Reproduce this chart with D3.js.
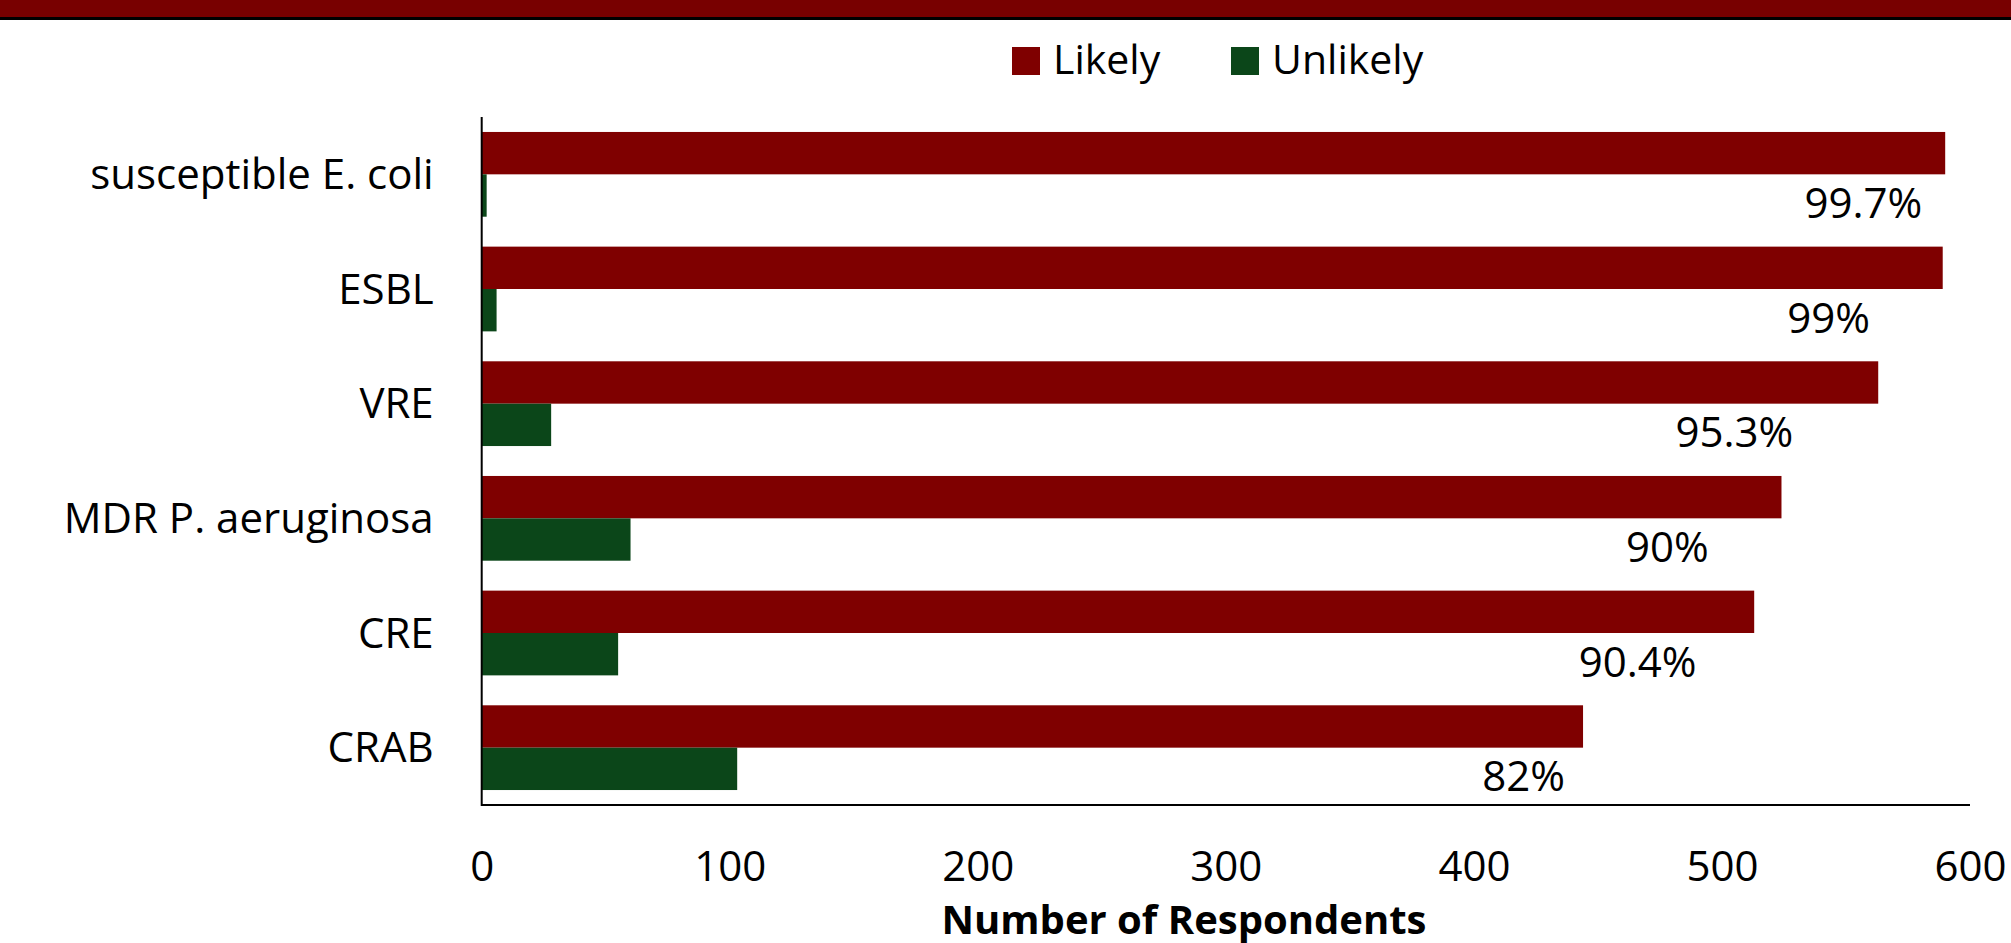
<!DOCTYPE html>
<html>
<head>
<meta charset="utf-8">
<script src="https://cdn.jsdelivr.net/npm/d3@7"></script>
<style>
  body { margin: 0; background: #fff; }
  text { font-family: "Open Sans", "Noto Sans", sans-serif; fill: #000; }
</style>
</head>
<body>
<svg width="2011" height="943"></svg>
<script>
// data
const categories = ["susceptible E. coli", "ESBL", "VRE", "MDR P. aeruginosa", "CRE", "CRAB"];
const likely = [590, 589, 563, 524, 513, 444];
const unlikely = [2, 6, 28, 60, 55, 103];
const pctLabels = ["99.7%", "99%", "95.3%", "90%", "90.4%", "82%"];
// where each % label sits, in respondents along the x axis
const pctLabelAt = [557, 543, 505, 478, 466, 420];
const xTicks = [0, 100, 200, 300, 400, 500, 600];
const seriesNames = ["Likely", "Unlikely"];
const seriesColors = ["#7f0000", "#0b4619"];

const svg = d3.select('svg');

// top banner
svg.append('rect').attr('x', 0).attr('y', 0).attr('width', 2011).attr('height', 17).attr('fill', '#780000');
svg.append('rect').attr('x', 0).attr('y', 17).attr('width', 2011).attr('height', 3).attr('fill', '#000');

const x = d3.scaleLinear()
    .domain([0, 600])
    .range([481.7, 1970]);

const y = d3.scaleBand()
    .domain(categories)
    .range([117, 805])
    .paddingInner(0.261)
    .paddingOuter(0.1305);

const ySub = d3.scaleBand()
    .domain(seriesNames)
    .range([0, y.bandwidth()]);

const rows = categories.map((c, i) => ({cat: c, vals: [likely[i], unlikely[i]], pct: pctLabels[i], at: pctLabelAt[i]}));

const groups = svg.selectAll('g.row')
    .data(rows)
    .enter()
    .append('g')
    .attr('class', 'row')
    .attr('transform', d => `translate(0, ${y(d.cat)})`);

groups.selectAll('rect')
    .data(d => d.vals.map((v, j) => ({v: v, s: seriesNames[j], c: seriesColors[j]})))
    .enter()
    .append('rect')
    .attr('x', x(0))
    .attr('y', d => ySub(d.s))
    .attr('width', d => x(d.v) - x(0))
    .attr('height', ySub.bandwidth())
    .attr('fill', d => d.c);

// percent labels under the red bars
svg.selectAll('text.pct')
    .data(rows)
    .enter()
    .append('text')
    .attr('class', 'pct')
    .attr('x', d => x(d.at))
    .attr('y', d => y(d.cat) - y.step() * y.paddingOuter() + 101)
    .attr('text-anchor', 'middle')
    .style('font-size', '42px')
    .text(d => d.pct);

// category labels
const yAxis = svg.append('g')
    .attr('transform', `translate(${x(0)}, 0)`)
    .call(d3.axisLeft(y).tickSize(0).tickPadding(48));
yAxis.select('.domain').remove();
yAxis.selectAll('text')
    .style('font-size', '42px')
    .attr('dy', '0.35em')
    .attr('fill', '#000');

// x axis
const xAxis = svg.append('g')
    .attr('transform', 'translate(0, 805)')
    .call(d3.axisBottom(x).tickValues(xTicks).tickSize(0).tickPadding(46));
xAxis.select('.domain').remove();
xAxis.selectAll('text')
    .style('font-size', '42px')
    .attr('fill', '#000');

// axis lines
svg.append('line')
    .attr('x1', x(0)).attr('x2', x(0))
    .attr('y1', 117).attr('y2', 806)
    .attr('stroke', '#000').attr('stroke-width', 2);
svg.append('line')
    .attr('x1', x(0)).attr('x2', x(600))
    .attr('y1', 805).attr('y2', 805)
    .attr('stroke', '#000').attr('stroke-width', 2);

// axis title
svg.append('text')
    .attr('x', 1184)
    .attr('y', 934)
    .attr('text-anchor', 'middle')
    .style('font-size', '40px')
    .style('font-weight', 'bold')
    .text('Number of Respondents');

// legend
const legendX = [1012, 1231];
const legend = svg.selectAll('g.legend')
    .data(seriesNames)
    .enter()
    .append('g')
    .attr('class', 'legend')
    .attr('transform', (d, i) => `translate(${legendX[i]}, 47)`);
legend.append('rect')
    .attr('width', 28)
    .attr('height', 28)
    .attr('fill', (d, i) => seriesColors[i]);
legend.append('text')
    .attr('x', 41)
    .attr('y', 27)
    .style('font-size', '41px')
    .text(d => d);
</script>
</body>
</html>
